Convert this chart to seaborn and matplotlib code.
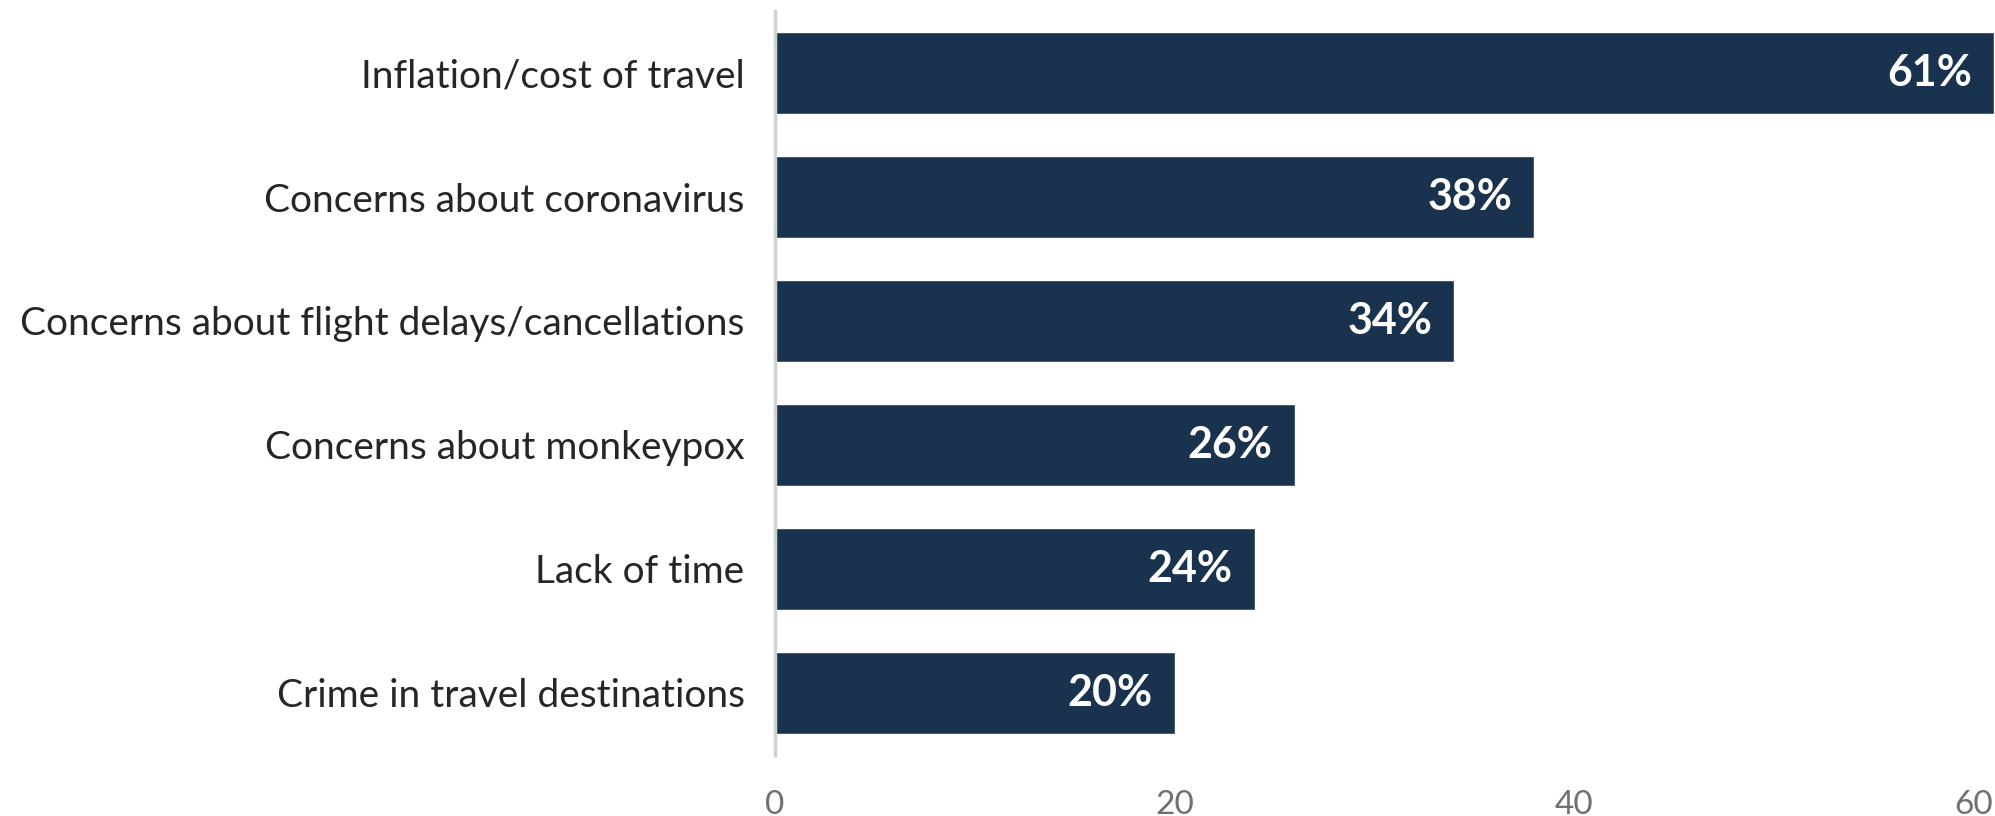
import matplotlib
matplotlib.use("Agg")
import matplotlib.pyplot as plt
import seaborn as sns
import pandas as pd

categories = [
    "Inflation/cost of travel",
    "Concerns about coronavirus",
    "Concerns about flight delays/cancellations",
    "Concerns about monkeypox",
    "Lack of time",
    "Crime in travel destinations",
]
values = [61, 38, 34, 26, 24, 20]
value_labels = ["61%", "38%", "34%", "26%", "24%", "20%"]
x_ticks = [0, 20, 40, 60]

sns.set_theme(style="white")
plt.rcParams["font.family"] = ["Lato", "DejaVu Sans"]

df = pd.DataFrame({"category": categories, "value": values})

fig = plt.figure(figsize=(19.95, 8.16), dpi=100)
ax = fig.add_axes([0.3885, 0.0748, 0.6115, 0.9117])

sns.barplot(data=df, x="value", y="category", orient="h", color="#19324e",
            width=0.668, saturation=1, ax=ax)

ax.set_xlim(0, 61.05)
ax.set_ylim(len(categories) - 0.5, -0.5)
ax.set_xticks(x_ticks)
ax.set_xlabel("")
ax.set_ylabel("")

for s in ["top", "right", "bottom"]:
    ax.spines[s].set_visible(False)
ax.spines["left"].set_color("#d0d0d0")
ax.spines["left"].set_linewidth(2.5)

ax.tick_params(axis="y", length=0, pad=22, labelsize=28, labelcolor="#262626")
ax.tick_params(axis="x", length=0, pad=25, labelsize=24, labelcolor="#707070")

xmax = ax.get_xlim()[1]
for i, (v, lab) in enumerate(zip(values, value_labels)):
    xend = min(v, xmax)
    ax.annotate(lab, xy=(xend, i), xytext=(-16, 0), textcoords="offset points",
                ha="right", va="center", color="white", fontsize=31,
                fontweight="bold")

fig.savefig("out.png", dpi=100)
